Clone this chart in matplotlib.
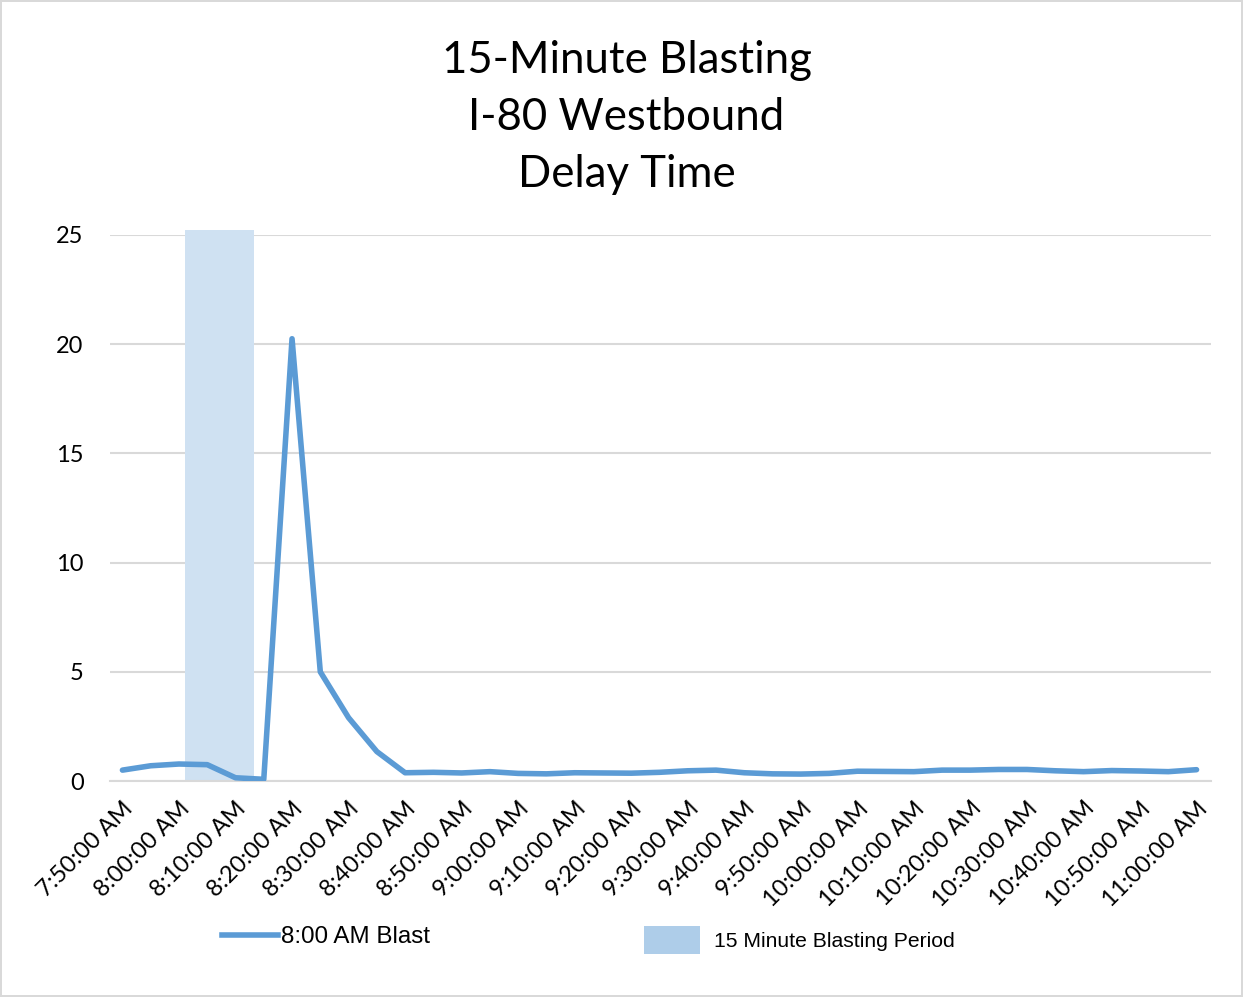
import matplotlib
matplotlib.use("Agg")
import matplotlib.pyplot as plt
from matplotlib.lines import Line2D
from matplotlib.patches import Patch, Rectangle

# 5-minute samples, 7:50 AM .. 11:00 AM
times = ["7:50", "7:55", "8:00", "8:05", "8:10", "8:15", "8:20", "8:25", "8:30", "8:35",
         "8:40", "8:45", "8:50", "8:55", "9:00", "9:05", "9:10", "9:15", "9:20", "9:25",
         "9:30", "9:35", "9:40", "9:45", "9:50", "9:55", "10:00", "10:05", "10:10", "10:15",
         "10:20", "10:25", "10:30", "10:35", "10:40", "10:45", "10:50", "10:55", "11:00"]
delay = [0.50, 0.70, 0.78, 0.75, 0.15, 0.08, 20.25, 5.00, 2.90, 1.35,
         0.38, 0.40, 0.37, 0.43, 0.35, 0.33, 0.38, 0.37, 0.36, 0.40,
         0.47, 0.50, 0.38, 0.33, 0.32, 0.35, 0.45, 0.44, 0.43, 0.50,
         0.50, 0.53, 0.53, 0.47, 0.43, 0.48, 0.46, 0.43, 0.52]

# blasting window as drawn in the source chart (index units) and its height
blast_span = [2.2, 4.67]
blast_top = 25.25

line_color = "#5b9bd5"
span_color = "#cfe1f2"
grid_color = "#d9d9d9"

plt.rcParams["font.family"] = ["Lato", "DejaVu Sans"]

fig = plt.figure(figsize=(12.43, 9.97), dpi=100)
fig.patch.set_edgecolor("#d9d9d9")
fig.patch.set_linewidth(1.5)
ax = fig.add_axes([0.0885, 0.2166, 0.8855, 0.5477])

x = list(range(len(times)))

ax.add_patch(Rectangle((blast_span[0], 0), blast_span[1] - blast_span[0], blast_top,
                       facecolor=span_color, edgecolor="none", clip_on=False, zorder=1))
ax.plot(x, delay, color=line_color, linewidth=4.0, solid_capstyle="round",
        solid_joinstyle="round", zorder=3)

ax.set_ylim(0, 25)
ax.set_xlim(-0.44, len(times) - 1 + 0.5)
ax.set_yticks([0, 5, 10, 15, 20, 25])
ax.yaxis.grid(True, color=grid_color, linewidth=1.5)
ax.set_axisbelow(True)
for s in ["top", "right", "left"]:
    ax.spines[s].set_visible(False)
ax.spines["bottom"].set_color(grid_color)
ax.spines["bottom"].set_linewidth(1.5)
ax.tick_params(axis="y", length=0, pad=19, labelsize=17)
ax.tick_params(axis="x", length=0, pad=12, labelsize=17)

tick_idx = x[::2]
ax.set_xticks(tick_idx)
ax.set_xticklabels([times[i] + ":00 AM" for i in tick_idx], rotation=45,
                   ha="right", rotation_mode="anchor")

fig.text(0.504, 0.960, "15-Minute Blasting\nI-80 Westbound\nDelay Time",
         ha="center", va="top", fontsize=31.5, linespacing=1.48)

fig.legend([Line2D([0], [0], color=line_color, linewidth=4.0)], ["8:00 AM Blast"],
           loc="center left", bbox_to_anchor=(0.1786, 0.0602), frameon=False,
           prop={"family": "Liberation Sans", "size": 17.4},
           handlelength=2.32, handletextpad=0.12, borderpad=0, borderaxespad=0)
fig.legend([Patch(facecolor="#aecde9", edgecolor="none")], ["15 Minute Blasting Period"],
           loc="center left", bbox_to_anchor=(0.518, 0.0572), frameon=False,
           prop={"family": "Liberation Sans", "size": 15.2},
           handlelength=2.65, handleheight=1.66, handletextpad=0.66,
           borderpad=0, borderaxespad=0)

fig.savefig("out.png", dpi=100)
